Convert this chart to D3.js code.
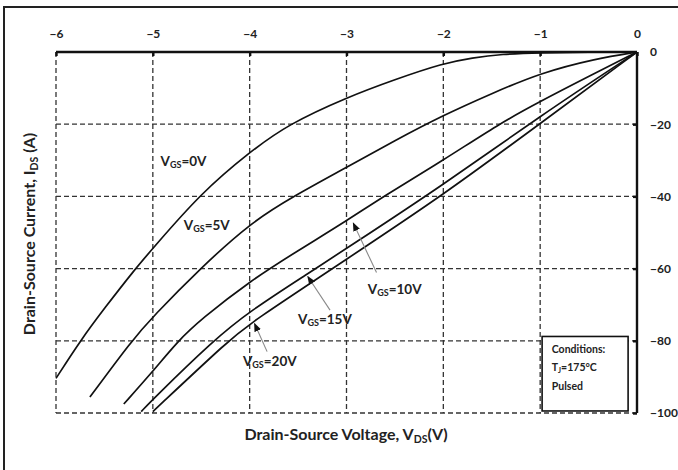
<!DOCTYPE html>
<html>
<head>
<meta charset="utf-8">
<script src="https://cdn.jsdelivr.net/npm/d3@7"></script>
<style>
  body { margin: 0; background: #fff; }
  svg text { font-family: Lato, "Open Sans", sans-serif; font-weight: bold; fill: #222; }
</style>
</head>
<body>
<div id="chart"></div>
<script>
// drain-source voltage (V) vs current (A), one array per gate voltage
var vgs0  = [[0,0],[-0.5,0],[-1.0,-0.2],[-1.4,-0.6],[-1.7,-1.6],[-2.0,-3.1],[-2.5,-7.6],[-3.0,-12.6],[-3.6,-20],[-4.0,-27.7],[-4.5,-39],[-5.0,-54.4],[-5.18,-60],[-5.5,-71],[-5.75,-80],[-6.0,-90.4]];
var vgs5  = [[0,0],[-0.42,-1.8],[-1.0,-5.8],[-1.5,-11.5],[-2.0,-17.5],[-2.5,-24.5],[-3.0,-32],[-3.55,-40],[-4.0,-47.5],[-4.5,-59.7],[-5.0,-73.3],[-5.22,-80],[-5.65,-95.6]];
var vgs10 = [[0,0],[-0.5,-6.8],[-1.0,-13.7],[-1.43,-20],[-2.0,-30],[-2.62,-40],[-3.0,-46.8],[-3.5,-55],[-4.0,-63.5],[-4.5,-74],[-4.74,-80],[-5.0,-88.5],[-5.3,-97.5]];
var vgs15 = [[0,0],[-1.0,-17.7],[-2.0,-36.8],[-3.0,-54.4],[-3.4,-61.4],[-4.0,-71.8],[-4.38,-80],[-5.0,-96.2],[-5.12,-99.6]];
var vgs20 = [[0,0],[-1.0,-19.8],[-2.0,-39.6],[-3.0,-57.4],[-4.0,-75.2],[-4.2,-79.5],[-5.0,-99.6]];
var series = [vgs0, vgs5, vgs10, vgs15, vgs20];

var xTicks = [-6,-5,-4,-3,-2,-1,0];
var yTicks = [0,-20,-40,-60,-80,-100];

// curve labels: [gate voltage text, V, I]
var labels = [["0V",-4.92,-30.8],["5V",-4.68,-48.6],["10V",-2.78,-66.2],["15V",-3.5,-74.5],["20V",-4.07,-86.2]];
// arrows: [from V, from I, to V, to I]
var arrows = [[-2.69,-61.1,-2.93,-47.4],[-3.17,-71.5,-3.4,-62.2],[-3.82,-83,-3.95,-75.2]];
var conditions = ["Conditions:", "T|J|=175°C", "Pulsed"];

var width = 678, height = 470;
var x = d3.scaleLinear().domain([-6, 0]).range([56, 637]);
var y = d3.scaleLinear().domain([0, -100]).range([52, 413]);

var svg = d3.select('#chart').append('svg')
  .attr('width', width)
  .attr('height', height);

// outer frame (cut off at right and bottom)
svg.append('rect')
  .attr('x', 4).attr('y', 7)
  .attr('width', 720).attr('height', 520)
  .attr('fill', 'none')
  .attr('stroke', '#222')
  .attr('stroke-width', 2);

// dashed grid
svg.append('g').selectAll('line')
  .data(xTicks.filter(d => d != 0))
  .enter().append('line')
    .attr('x1', d => x(d)).attr('x2', d => x(d))
    .attr('y1', y(0)).attr('y2', y(-100))
    .attr('stroke', '#333').attr('stroke-width', 1.3)
    .attr('stroke-dasharray', '5,3');
svg.append('g').selectAll('line')
  .data(yTicks.filter(d => d != 0))
  .enter().append('line')
    .attr('x1', x(-6)).attr('x2', x(0))
    .attr('y1', d => y(d)).attr('y2', d => y(d))
    .attr('stroke', '#333').attr('stroke-width', 1.3)
    .attr('stroke-dasharray', '5,3');

// top and right axes
var xAxis = d3.axisTop(x).tickValues(xTicks).tickSize(-4).tickPadding(14).tickFormat(d3.format('d'));
var gx = svg.append('g').attr('transform', 'translate(0,' + y(0) + ')').call(xAxis);
var yAxis = d3.axisRight(y).tickValues(yTicks).tickSize(-4).tickPadding(14).tickFormat(d3.format('d'));
var gy = svg.append('g').attr('transform', 'translate(' + x(0) + ',0)').call(yAxis);
[gx, gy].forEach(function(g) {
  g.select('.domain').attr('stroke', '#111').attr('stroke-width', 2.4);
  g.selectAll('.tick line').attr('stroke', '#111').attr('stroke-width', 2.4);
  g.selectAll('.tick text').attr('font-size', 12).attr('fill', '#222')
    .style('font-family', 'Lato, sans-serif').style('font-weight', 'bold');
});
gx.select('.domain').attr('d', 'M' + x(-6) + ',0H' + x(0));
gy.select('.domain').attr('d', 'M0,' + y(0) + 'V' + y(-100));
gy.selectAll('.tick text').attr('text-anchor', 'start').attr('x', 13);

// curves
var line = d3.line()
  .x(d => x(d[0]))
  .y(d => y(d[1]))
  .curve(d3.curveBasis);
svg.append('g').selectAll('path')
  .data(series)
  .enter().append('path')
    .attr('d', d => line(d))
    .attr('fill', 'none')
    .attr('stroke', '#111')
    .attr('stroke-width', 1.7);

// arrows
svg.append('defs').append('marker')
  .attr('id', 'head')
  .attr('viewBox', '0 0 10 10')
  .attr('refX', 9).attr('refY', 5)
  .attr('markerWidth', 8).attr('markerHeight', 8)
  .attr('orient', 'auto')
  .append('path').attr('d', 'M0,1L10,5L0,9Z').attr('fill', '#111');
svg.append('g').selectAll('line')
  .data(arrows)
  .enter().append('line')
    .attr('x1', d => x(d[0])).attr('y1', d => y(d[1]))
    .attr('x2', d => x(d[2])).attr('y2', d => y(d[3]))
    .attr('stroke', '#888').attr('stroke-width', 1.1)
    .attr('marker-end', 'url(#head)');

// curve labels
var lab = svg.append('g').selectAll('text')
  .data(labels)
  .enter().append('text')
    .attr('x', d => x(d[1])).attr('y', d => y(d[2]))
    .attr('font-size', 13.5)
    .attr('dominant-baseline', 'middle');
lab.append('tspan').text('V');
lab.append('tspan').text('GS').attr('font-size', 9).attr('dy', 3);
lab.append('tspan').text(d => '=' + d[0]).attr('dy', -3);

// conditions box
svg.append('rect')
  .attr('x', x(-0.98)).attr('y', y(-78.8))
  .attr('width', 86).attr('height', 74.5)
  .attr('fill', '#fff')
  .attr('stroke', '#111').attr('stroke-width', 1.6);
var cond = svg.append('g').selectAll('text')
  .data(conditions)
  .enter().append('text')
    .attr('x', x(-0.88))
    .attr('y', (d, i) => y(-82.5) + i * 18.5)
    .attr('font-size', 10.5)
    .attr('dominant-baseline', 'middle');
cond.each(function(d) {
  var parts = d.split('|');
  var t = d3.select(this);
  t.append('tspan').text(parts[0]);
  if (parts.length > 1) {
    t.append('tspan').text(parts[1]).attr('font-size', 7).attr('dy', 3);
    t.append('tspan').text(parts[2]).attr('dy', -3);
  }
});

// axis titles
var xt = svg.append('text')
  .attr('x', 346).attr('y', 440)
  .attr('text-anchor', 'middle')
  .attr('font-size', 16);
xt.append('tspan').text('Drain-Source Voltage, V');
xt.append('tspan').text('DS').attr('font-size', 10.5).attr('dy', 3);
xt.append('tspan').text('(V)').attr('dy', -3);

var yt = svg.append('text')
  .attr('transform', 'translate(35,234) rotate(-90)')
  .attr('text-anchor', 'middle')
  .attr('font-size', 16);
yt.append('tspan').text('Drain-Source Current, I');
yt.append('tspan').text('DS').attr('font-size', 10.5).attr('dy', 3);
yt.append('tspan').text(' (A)').attr('dy', -3);
</script>
</body>
</html>
